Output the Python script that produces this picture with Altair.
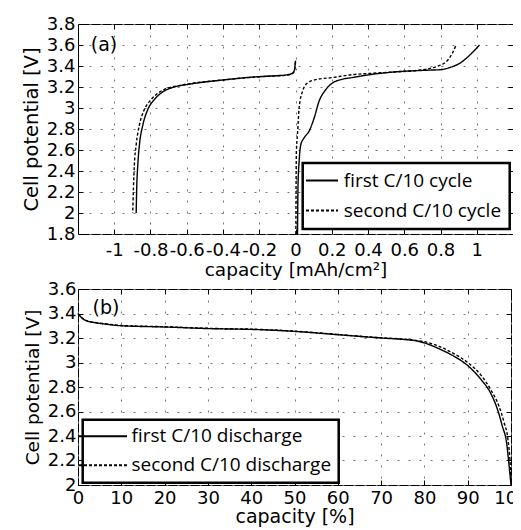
import altair as alt
import pandas as pd

FONT = "DejaVu Sans"
LFONT = "Open Sans"

# ---------------- panel (a): capacity [mAh/cm2] ----------------
series_a = ["first C/10 cycle", "second C/10 cycle"]
a_first_dis_cap = [0.0, -0.004, -0.01, -0.025, -0.05, -0.1, -0.19, -0.3, -0.41, -0.5, -0.6,
                   -0.67, -0.71, -0.741, -0.779, -0.815, -0.842, -0.861, -0.870, -0.876, -0.879]
a_first_dis_v = [3.45, 3.38, 3.345, 3.325, 3.315, 3.308, 3.30, 3.285, 3.265, 3.248, 3.223,
                 3.20, 3.175, 3.143, 3.08, 2.985, 2.84, 2.65, 2.46, 2.24, 2.0]
a_second_dis_cap = [0.0, -0.004, -0.01, -0.025, -0.05, -0.1, -0.19, -0.3, -0.41, -0.5, -0.6,
                    -0.65, -0.705, -0.76, -0.797, -0.834, -0.861, -0.879, -0.889, -0.894, -0.898]
a_second_dis_v = [3.44, 3.37, 3.34, 3.322, 3.312, 3.306, 3.298, 3.284, 3.265, 3.25, 3.228,
                  3.21, 3.19, 3.14, 3.08, 2.985, 2.84, 2.65, 2.46, 2.24, 2.0]
a_first_chg_cap = [0.011, 0.012, 0.014, 0.02, 0.029, 0.047, 0.075, 0.103, 0.13, 0.167, 0.204,
                   0.249, 0.314, 0.40, 0.543, 0.727, 0.80, 0.855, 0.91, 0.965, 1.015]
a_first_chg_v = [1.8, 2.0, 2.27, 2.49, 2.65, 2.714, 2.78, 2.905, 3.064, 3.175, 3.238,
                 3.27, 3.29, 3.315, 3.343, 3.36, 3.365, 3.388, 3.43, 3.51, 3.60]
a_second_chg_cap = [0.002, 0.003, 0.005, 0.011, 0.02, 0.039, 0.066, 0.112, 0.204, 0.314,
                    0.42, 0.543, 0.69, 0.782, 0.837, 0.865, 0.886]
a_second_chg_v = [1.8, 2.2, 2.59, 2.75, 3.0, 3.16, 3.238, 3.27, 3.29, 3.318,
                  3.33, 3.343, 3.362, 3.397, 3.45, 3.52, 3.60]
a_xticks = [-1, -0.8, -0.6, -0.4, -0.2, 0, 0.2, 0.4, 0.6, 0.8, 1]
a_yticks = [1.8, 2, 2.2, 2.4, 2.6, 2.8, 3, 3.2, 3.4, 3.6, 3.8]

# ---------------- panel (b): capacity [%] ----------------
series_b = ["first C/10 discharge", "second C/10 discharge"]
b_first_cap = [0, 1, 2, 4, 6, 10, 20, 30, 42, 50, 60, 70, 74.5, 77.6, 80, 83.8, 86.9, 90,
               93.1, 95.3, 96.9, 98.0, 99.0, 99.5, 100]
b_first_v = [3.40, 3.36, 3.34, 3.325, 3.315, 3.30, 3.29, 3.277, 3.268, 3.254, 3.227, 3.20,
             3.19, 3.18, 3.16, 3.105, 3.05, 2.975, 2.86, 2.75, 2.615, 2.48, 2.34, 2.18, 2.0]
b_second_cap = [0, 1, 2, 4, 6, 10, 20, 30, 42, 50, 60, 70, 74.5, 77.6, 80, 83.8, 86.9, 90,
                93.1, 95.3, 97.2, 98.4, 99.3, 99.8, 100]
b_second_v = [3.40, 3.362, 3.342, 3.327, 3.317, 3.302, 3.292, 3.279, 3.27, 3.256, 3.229, 3.202,
              3.193, 3.182, 3.17, 3.125, 3.07, 3.0, 2.895, 2.78, 2.645, 2.51, 2.37, 2.18, 2.03]
b_xticks = [0, 10, 20, 30, 40, 50, 60, 70, 80, 90, 100]
b_yticks = [2, 2.2, 2.4, 2.6, 2.8, 3, 3.2, 3.4, 3.6]


def build(parts):
    rows = []
    for series, seg, caps, vs in parts:
        for i, (c, v) in enumerate(zip(caps, vs)):
            rows.append({"cap": c, "V": v, "series": series, "seg": seg, "idx": i})
    return pd.DataFrame(rows)


df_a = build([
    (series_a[0], "a1d", a_first_dis_cap, a_first_dis_v),
    (series_a[1], "a2d", a_second_dis_cap, a_second_dis_v),
    (series_a[0], "a1c", a_first_chg_cap, a_first_chg_v),
    (series_a[1], "a2c", a_second_chg_cap, a_second_chg_v),
])
df_b = build([
    (series_b[0], "b1", b_first_cap, b_first_v),
    (series_b[1], "b2", b_second_cap, b_second_v),
])


def panel(df, xdom, ydom, xt, yt, xtitle, series, w, h, leg, label, lab_pos, ax):
    xs = alt.Scale(domain=xdom, nice=False, zero=False)
    ys = alt.Scale(domain=ydom, nice=False, zero=False)
    lab = dict(labelFont=FONT, labelFontSize=18, labelColor="black",
               labelOverlap=False, labelFlush=False, labelExpr="'' + datum.value")
    ttl = dict(titleFont=FONT, titleFontWeight="normal", titleColor="black")
    grid = dict(grid=True, gridDash=[2, 9], gridColor="#777777", gridWidth=1,
                ticks=False, tickSize=0, domain=False)
    base = alt.Chart(df)
    main = base.mark_line(color="black", strokeWidth=1.4, interpolate="monotone").encode(
        x=alt.X("cap:Q", scale=xs,
                axis=alt.Axis(values=xt, labelPadding=ax["xlp"], title=xtitle,
                              titleFontSize=ax["xts"], titlePadding=ax["xtp"],
                              **grid, **lab, **ttl)),
        y=alt.Y("V:Q", scale=ys,
                axis=alt.Axis(values=yt, labelPadding=ax["ylp"], title="Cell potential [V]",
                              titleFontSize=ax["yts"], titlePadding=ax["ytp"],
                              **grid, **lab, **ttl)),
        strokeDash=alt.StrokeDash(
            "series:N",
            scale=alt.Scale(domain=series, range=[[1, 0], [3, 2]]),
            legend=alt.Legend(
                title=None, orient="none", legendX=leg["x"], legendY=leg["y"],
                symbolType=leg["path"], symbolSize=64, symbolStrokeWidth=2,
                symbolStrokeColor="black", symbolOffset=leg["so"],
                labelOffset=leg["lo"], labelFont=LFONT, labelFontSize=19,
                labelColor="black", labelLimit=0, strokeColor="black",
                fillColor="white", padding=leg["pad"], rowPadding=leg["rp"],
            ),
        ),
        detail="seg:N",
        order="idx:Q",
    )

    def tick_axis(orient, vals):
        return alt.Axis(orient=orient, values=vals, labels=False, ticks=True, tickSize=5,
                        tickColor="black", tickWidth=1, offset=-5, domain=False,
                        grid=False, title=None)

    ticks_tr = base.mark_line(strokeOpacity=0).encode(
        x=alt.X("cap:Q", scale=xs, axis=tick_axis("top", xt)),
        y=alt.Y("V:Q", scale=ys, axis=tick_axis("right", yt)),
        detail="seg:N",
    )
    ticks_bl = base.mark_line(strokeOpacity=0).encode(
        x=alt.X("cap:Q", scale=xs, axis=tick_axis("bottom", xt)),
        y=alt.Y("V:Q", scale=ys, axis=tick_axis("left", yt)),
        detail="seg:N",
    )
    txt = alt.Chart(pd.DataFrame({"t": [label]})).mark_text(
        font=FONT, fontSize=19, color="black", align="center", baseline="middle"
    ).encode(text="t:N", x=alt.value(lab_pos[0]), y=alt.value(lab_pos[1]))

    return alt.layer(main, txt, ticks_tr, ticks_bl).resolve_axis(
        x="independent", y="independent"
    ).properties(width=w, height=h)


top = panel(
    df_a, [-1.2, 1.2], [1.8, 3.8], a_xticks, a_yticks, "capacity [mAh/cm²]", series_a,
    435, 210,
    {"x": 224.7, "y": 139, "path": "M-4,0H4", "so": 1.8, "lo": 12.3, "pad": 8, "rp": 10},
    "(a)", (26, 20.6),
    {"xlp": 7, "xtp": 1, "xts": 18.5, "ylp": 3, "ytp": 5, "yts": 19.5},
)
bottom = panel(
    df_b, [0, 100], [2, 3.6], b_xticks, b_yticks, "capacity [%]", series_b,
    433, 196,
    {"x": 4.7, "y": 130.7, "path": "M-6,0H6", "so": 3.8, "lo": 19, "pad": 7, "rp": 9},
    "(b)", (28, 18.7),
    {"xlp": 4, "xtp": 0, "xts": 19, "ylp": 2, "ytp": 4.5, "yts": 18.5},
)

chart = alt.vconcat(top, bottom, spacing=0).resolve_scale(
    x="independent", y="independent", strokeDash="independent"
).resolve_legend(strokeDash="independent").properties(
    padding={"left": 12, "top": 6, "right": -16, "bottom": 0}
).configure_view(stroke="black", strokeWidth=1).configure_legend(strokeWidth=2.5)

chart.save("out.html", embed_options={"renderer": "svg", "actions": False})
